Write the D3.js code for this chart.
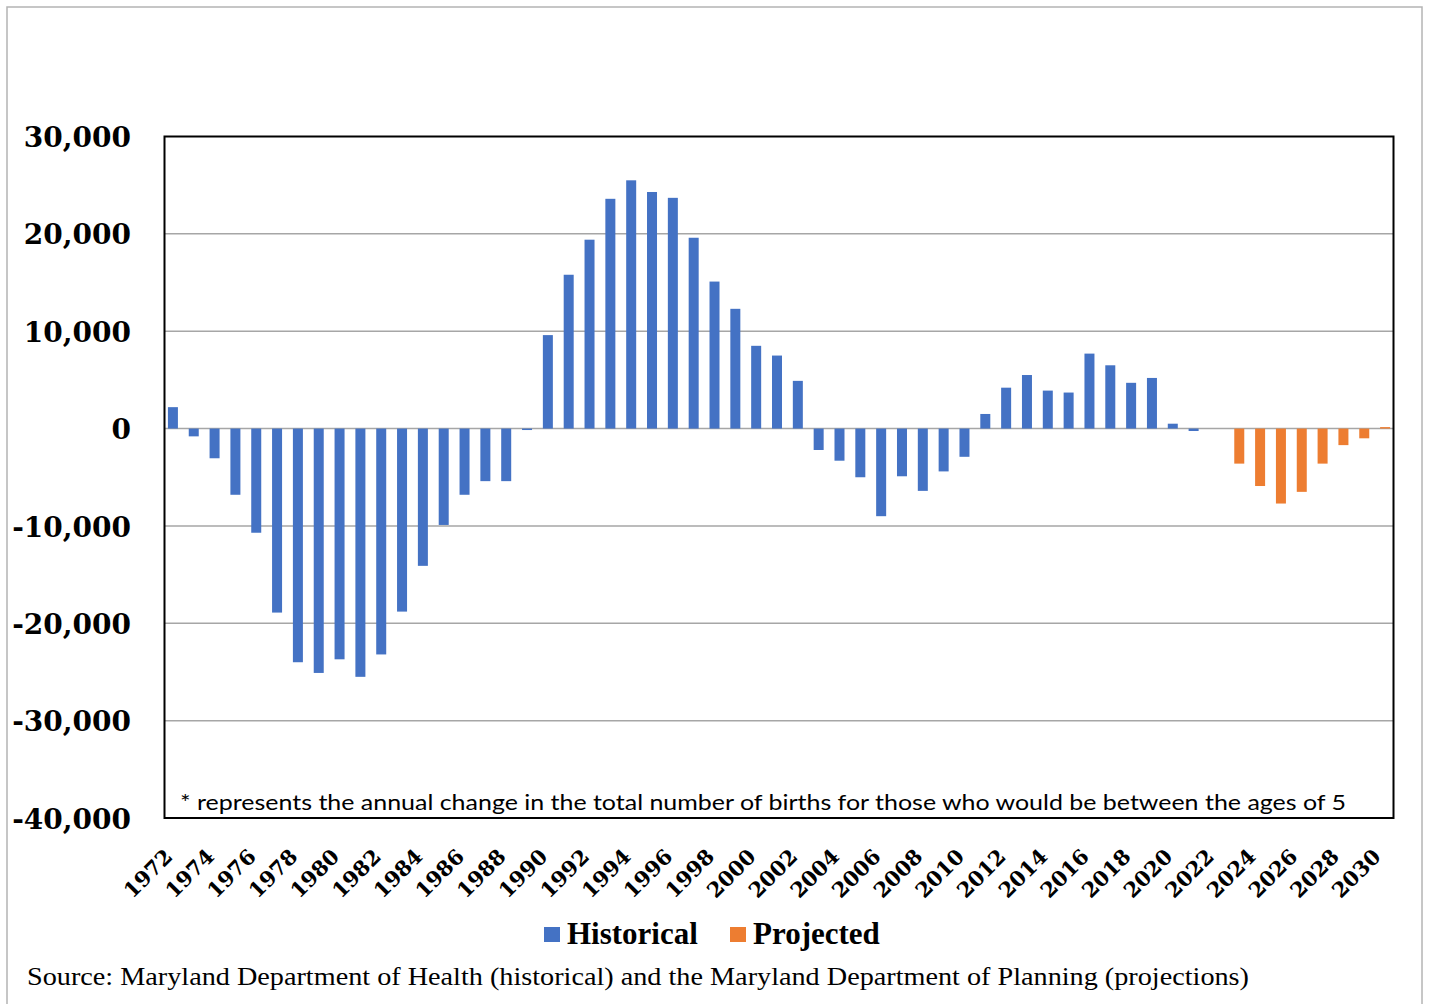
<!DOCTYPE html>
<html>
<head>
<meta charset="utf-8">
<script src="https://cdn.jsdelivr.net/npm/d3@7"></script>
<style>
body { margin:0; background:#fff; }
svg { display:block; }
</style>
</head>
<body>
<svg id="vis" width="1429" height="1004"></svg>
<script>
// categories
var years = d3.range(1972, 2031).map(String);
var tickYears = years.filter(function(d,i){ return i % 2 == 0; });
// series values (annual change in births)
var historical = [2200, -800, -3050, -6800, -10700, -18900, -24000, -25100, -23700, -25500,
	-23200, -18800, -14100, -9900, -6800, -5400, -5400, -150, 9600, 15800,
	19400, 23600, 25500, 24300, 23700, 19600, 15100, 12300, 8500, 7500,
	4900, -2200, -3300, -5000, -9000, -4900, -6400, -4400, -2900, 1500,
	4200, 5500, 3900, 3700, 7700, 6500, 4700, 5200, 500, -250];
var projected = [0, -3600, -5900, -7700, -6500, -3600, -1700, -1000, 150];
var yTicks = [-40000, -30000, -20000, -10000, 0, 10000, 20000, 30000];
var seriesNames = ["Historical", "Projected"];
var seriesColors = ["#4472C4", "#ED7D31"];
var footnote = "* represents the annual change in the total number of births for those who would be between the ages of 5";
var source = "Source: Maryland Department of Health (historical) and the Maryland Department of Planning (projections)";

var svg = d3.select("svg#vis");
var plotL = 164.5, plotR = 1393.5, plotT = 136.5, plotB = 818;
var barW = 10;

// outer chart frame
svg.append("rect")
	.attr("x", 7).attr("y", 7).attr("width", 1415).attr("height", 1020)
	.attr("fill", "none").attr("stroke", "#b4b4b4").attr("stroke-width", 1.5);

var x = d3.scaleBand().domain(years).range([plotL, plotR]).padding(0);
var y = d3.scaleLinear().domain([-40000, 30000]).range([plotB, plotT]);

// gridlines
svg.append("g").selectAll("line")
	.data(yTicks.filter(function(d){ return d > -40000 && d < 30000; }))
	.enter().append("line")
	.attr("x1", plotL).attr("x2", plotR)
	.attr("y1", function(d){ return y(d); })
	.attr("y2", function(d){ return y(d); })
	.attr("stroke", "#a6a6a6").attr("stroke-width", 1.5);

// y axis labels (plain hyphen for negatives, like Excel)
var fmt = d3.formatLocale({decimal: ".", thousands: ",", grouping: [3], currency: ["", ""], minus: "-"}).format(",");
var yAxis = d3.axisLeft(y).tickValues(yTicks).tickSize(0).tickPadding(0)
	.tickFormat(fmt);
var yg = svg.append("g").attr("transform", "translate(131,0)").call(yAxis);
yg.select(".domain").remove();
yg.selectAll("text")
	.attr("font-family", "DejaVu Serif").attr("font-weight", "bold")
	.attr("font-size", 28).attr("fill", "#000").attr("dy", "0.36em");

// bars
var data = [];
years.forEach(function(yr, i){
	if (i < historical.length && historical[i] != null)
		data.push({year: yr, value: historical[i], s: 0});
	var j = i - historical.length;
	if (j >= 0 && projected[j] != null)
		data.push({year: yr, value: projected[j], s: 1});
});
svg.append("g").selectAll("rect")
	.data(data.filter(function(d){ return d.value != 0; }))
	.enter().append("rect")
	.attr("x", function(d){ return x(d.year) + x.bandwidth()/2 + (d.s == 0 ? -2 : 2) - barW/2; })
	.attr("y", function(d){ return Math.min(y(0), y(d.value)); })
	.attr("width", barW)
	.attr("height", function(d){ return Math.abs(y(d.value) - y(0)); })
	.attr("fill", function(d){ return seriesColors[d.s]; });

// plot area border
svg.append("rect")
	.attr("x", plotL).attr("y", plotT).attr("width", plotR-plotL).attr("height", plotB-plotT)
	.attr("fill", "none").attr("stroke", "#000").attr("stroke-width", 2);

// footnote inside plot area
svg.append("text")
	.attr("x", 180).attr("y", 810)
	.attr("font-family", "Lato").attr("font-size", 22)
	.attr("textLength", 1166).attr("lengthAdjust", "spacingAndGlyphs")
	.text(footnote);

// x axis labels, every other year, rotated
svg.append("g").selectAll("text")
	.data(tickYears)
	.enter().append("text")
	.attr("transform", function(d){
		return "translate(" + (x(d) + x.bandwidth()/2 - 1) + ",858) rotate(-45)";
	})
	.attr("text-anchor", "end")
	.attr("font-family", "DejaVu Serif").attr("font-weight", "bold")
	.attr("font-size", 21)
	.text(function(d){ return d; });

// legend
var legX = [544, 730];
var leg = svg.append("g").selectAll("g")
	.data(seriesNames)
	.enter().append("g")
	.attr("transform", function(d,i){ return "translate(" + legX[i] + ",927)"; });
leg.append("rect").attr("width", 16).attr("height", 15)
	.attr("fill", function(d,i){ return seriesColors[i]; });
leg.append("text")
	.attr("x", 23).attr("y", 17)
	.attr("font-family", "Liberation Serif").attr("font-weight", "bold")
	.attr("font-size", 31)
	.text(function(d){ return d; });

// source line
svg.append("text")
	.attr("x", 27).attr("y", 985)
	.attr("font-family", "Liberation Serif").attr("font-size", 26)
	.attr("textLength", 1222).attr("lengthAdjust", "spacingAndGlyphs")
	.text(source);
</script>
</body>
</html>
